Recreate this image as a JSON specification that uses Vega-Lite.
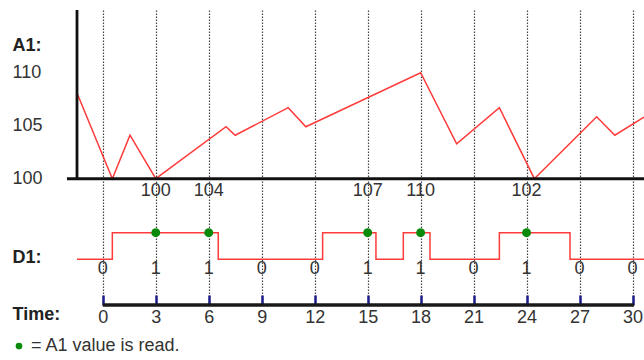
{
  "$schema": "https://vega.github.io/schema/vega-lite/v6.json",
  "width": 567,
  "height": 295,
  "padding": {"left": 77, "top": 10, "right": 0, "bottom": 55},
  "autosize": {"type": "none"},
  "background": "white",
  "config": {
    "view": {"stroke": null},
    "font": "Liberation Sans",
    "axis": {"grid": false}
  },
  "datasets": {
    "a1": [
      {"t": -1.461, "v": 108.08},
      {"t": 0.54, "v": 100},
      {"t": 1.54, "v": 104.1},
      {"t": 3, "v": 100},
      {"t": 6.98, "v": 104.9},
      {"t": 7.5, "v": 104.1},
      {"t": 10.5, "v": 106.7},
      {"t": 11.5, "v": 104.9},
      {"t": 18, "v": 110},
      {"t": 20.04, "v": 103.3},
      {"t": 22.46, "v": 106.7},
      {"t": 24.44, "v": 100},
      {"t": 27.97, "v": 105.85},
      {"t": 29.0, "v": 104.1},
      {"t": 30.651, "v": 105.8}
    ],
    "d1": [
      {"t": -1.461, "d1": 0},
      {"t": 0.54, "d1": 1},
      {"t": 6.54, "d1": 0},
      {"t": 12.45, "d1": 1},
      {"t": 15.47, "d1": 0},
      {"t": 17.02, "d1": 1},
      {"t": 18.53, "d1": 0},
      {"t": 22.46, "d1": 1},
      {"t": 26.46, "d1": 0},
      {"t": 30.651, "d1": 0}
    ],
    "reads": [
      {"t": 3, "a1": 100, "d1": 1, "event": "A1 value is read."},
      {"t": 6, "a1": 104, "d1": 1, "event": "A1 value is read."},
      {"t": 15, "a1": 107, "d1": 1, "event": "A1 value is read."},
      {"t": 18, "a1": 110, "d1": 1, "event": "A1 value is read."},
      {"t": 24, "a1": 102, "d1": 1, "event": "A1 value is read."}
    ],
    "samples": [
      {"t": 0, "d1": 0}, {"t": 3, "d1": 1}, {"t": 6, "d1": 1}, {"t": 9, "d1": 0},
      {"t": 12, "d1": 0}, {"t": 15, "d1": 1}, {"t": 18, "d1": 1}, {"t": 21, "d1": 0},
      {"t": 24, "d1": 1}, {"t": 27, "d1": 0}, {"t": 30, "d1": 0}
    ]
  },
  "layer": [
    {
      "layer": [
        {
          "data": {"name": "a1"},
          "mark": {"type": "line", "color": "#ff3a3a", "strokeWidth": 1.5},
          "encoding": {
            "x": {
              "field": "t", "type": "quantitative",
              "scale": {"domain": [-1.461, 30.651], "nice": false, "zero": false},
              "axis": {
                "values": [0, 3, 6, 9, 12, 15, 18, 21, 24, 27, 30],
                "grid": true, "gridColor": "#444", "gridDash": [1.5, 1.5], "gridWidth": 1.2,
                "domain": false,
                "ticks": true, "tickSize": -10, "tickColor": "#1c1c8a", "tickWidth": 2.5,
                "labelPadding": 13, "labelFontSize": 18, "labelColor": "#333",
                "labelFlush": false, "labelOverlap": false,
                "title": "Time:", "titleFontSize": 18, "titleFontWeight": "bold", "titleColor": "#222",
                "titleX": -65, "titleY": 9, "titleAlign": "left", "titleBaseline": "middle", "titleAngle": 0
              }
            },
            "y": {
              "field": "v", "type": "quantitative",
              "scale": {"domain": [88.085, 115.915], "nice": false, "zero": false},
              "axis": {
                "orient": "left",
                "values": [100, 105, 110],
                "domain": false, "ticks": false, "tickSize": 0, "grid": false,
                "labelAlign": "left", "labelBaseline": "middle", "labelPadding": 65,
                "labelFontSize": 18, "labelColor": "#333",
                "title": "A1:", "titleFontSize": 18, "titleFontWeight": "bold", "titleColor": "#222",
                "titleX": -65, "titleY": 35, "titleAlign": "left", "titleBaseline": "middle", "titleAngle": 0
              }
            }
          }
        },
        {
          "data": {"values": [{}]},
          "mark": {"type": "rule", "color": "#111", "strokeWidth": 2.8},
          "encoding": {
            "x": {"datum": -1.461, "type": "quantitative"},
            "y": {"datum": 100, "type": "quantitative"},
            "y2": {"datum": 115.915}
          }
        },
        {
          "data": {"values": [{}]},
          "mark": {"type": "rule", "color": "#111", "strokeWidth": 3},
          "encoding": {
            "x": {"datum": -2.03, "type": "quantitative"},
            "x2": {"datum": 30.651},
            "y": {"datum": 100, "type": "quantitative"}
          }
        },
        {
          "data": {"values": [{}]},
          "mark": {"type": "rule", "color": "#1a1a1a", "strokeWidth": 3.5},
          "encoding": {
            "x": {"datum": 0, "type": "quantitative"},
            "x2": {"datum": 30.08},
            "y": {"datum": 88.085, "type": "quantitative"}
          }
        },
        {
          "data": {"name": "reads"},
          "mark": {"type": "text", "fontSize": 18, "color": "#333", "baseline": "middle", "dy": 12},
          "encoding": {
            "x": {"field": "t", "type": "quantitative"},
            "y": {"datum": 100, "type": "quantitative"},
            "text": {"field": "a1", "type": "quantitative"}
          }
        }
      ]
    },
    {
      "layer": [
        {
          "data": {"name": "d1"},
          "mark": {"type": "line", "color": "#ff3a3a", "strokeWidth": 1.5, "interpolate": "step-after"},
          "encoding": {
            "x": {"field": "t", "type": "quantitative"},
            "y": {
              "field": "d1", "type": "quantitative",
              "scale": {"domain": [-1.718, 9.372], "nice": false, "zero": false},
              "axis": {
                "orient": "left",
                "values": [0],
                "labelExpr": "'D1:'",
                "domain": false, "ticks": false, "tickSize": 0, "grid": false,
                "labelAlign": "left", "labelBaseline": "middle", "labelPadding": 65,
                "labelFontSize": 18, "labelFontWeight": "bold", "labelColor": "#222",
                "labelOffset": -1.5,
                "title": null
              }
            }
          }
        },
        {
          "data": {"name": "reads"},
          "mark": {"type": "point", "filled": true, "opacity": 1, "size": 80, "shape": "circle"},
          "encoding": {
            "x": {"field": "t", "type": "quantitative"},
            "y": {"field": "d1", "type": "quantitative"},
            "color": {
              "field": "event", "type": "nominal",
              "scale": {"range": ["#0a8a0a"]},
              "legend": {
                "orient": "none", "legendX": -67, "legendY": 327,
                "title": null, "padding": 0,
                "symbolType": "circle", "symbolSize": 45, "symbolStrokeWidth": 0, "symbolOpacity": 1,
                "labelFontSize": 18, "labelColor": "#333", "labelOffset": 3, "labelLimit": 300,
                "labelExpr": "'= ' + datum.label"
              }
            }
          }
        },
        {
          "data": {"name": "samples"},
          "mark": {"type": "text", "fontSize": 18, "color": "#333", "baseline": "middle", "dy": 9.5},
          "encoding": {
            "x": {"field": "t", "type": "quantitative"},
            "y": {"datum": 0, "type": "quantitative"},
            "text": {"field": "d1", "type": "quantitative"}
          }
        }
      ]
    }
  ],
  "resolve": {"scale": {"y": "independent"}}
}
